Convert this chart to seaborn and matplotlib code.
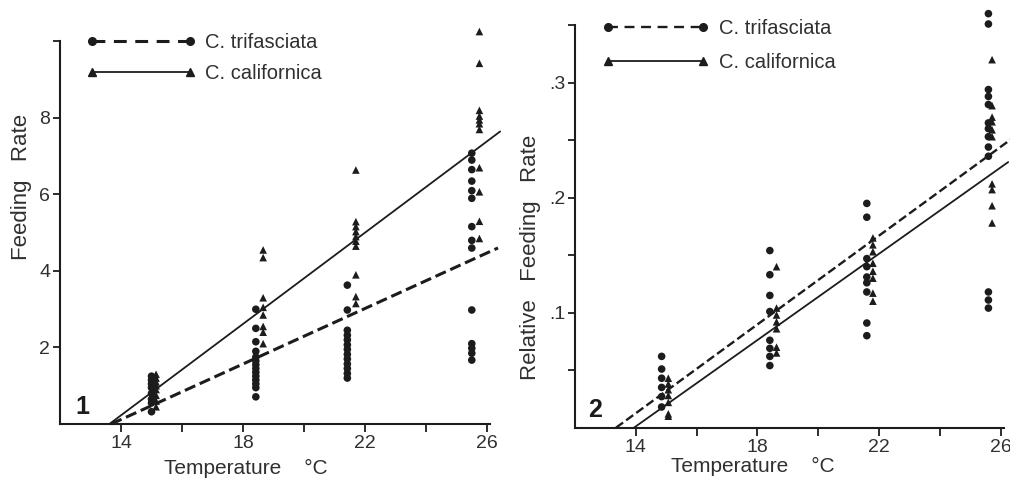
"""
Feeding rate vs temperature: two-panel scatter with fitted lines
"""
import numpy as np
import pandas as pd
import matplotlib
matplotlib.use("Agg")
import matplotlib.pyplot as plt
from matplotlib.lines import Line2D
import seaborn as sns

sns.set_style("ticks")
plt.rcParams["font.family"] = ["Liberation Sans", "DejaVu Sans"]

INK = "#1c1c1c"
TXT = "#303030"

# ---- panel 1 : Feeding Rate ----
p1_trif_x = [15.0, 18.42, 21.42, 25.5]
p1_trif_y = [
    [0.32, 0.55, 0.65, 0.8, 0.95, 1.05, 1.15, 1.25],
    [0.71, 0.95, 1.05, 1.15, 1.25, 1.35, 1.45, 1.55, 1.65, 1.75, 1.9, 2.15, 2.5, 3.0],
    [1.2, 1.32, 1.45, 1.57, 1.7, 1.82, 1.95, 2.07, 2.2, 2.32, 2.45, 2.98, 3.63],
    [1.67, 1.85, 1.98, 2.1, 2.98, 4.6, 4.8, 5.16, 5.9, 6.1, 6.35, 6.65, 6.9, 7.08],
]
p1_cal_x = [15.15, 18.66, 21.7, 25.75]
p1_cal_y = [
    [0.45, 0.6, 0.75, 0.9, 1.0, 1.1, 1.2, 1.3],
    [2.1, 2.4, 2.55, 2.85, 3.05, 3.3, 4.35, 4.55],
    [3.15, 3.33, 3.9, 4.65, 4.78, 4.9, 5.03, 5.16, 5.29, 6.64],
    [4.85, 5.3, 6.07, 6.7, 7.7, 7.85, 7.95, 8.05, 8.2, 9.43, 10.26],
]
# fitted lines: x where line meets zero, slope, x where drawing stops
p1_fit_trif = (13.68, 0.363, 26.36)
p1_fit_cal = (13.62, 0.597, 26.43)

# ---- panel 2 : Relative Feeding Rate ----
p2_trif_x = [14.85, 18.41, 21.6, 25.6]
p2_trif_y = [
    [0.018, 0.027, 0.035, 0.043, 0.051, 0.062],
    [0.054, 0.062, 0.069, 0.076, 0.101, 0.115, 0.133, 0.154],
    [0.08, 0.091, 0.118, 0.126, 0.131, 0.14, 0.147, 0.183, 0.195],
    [0.104, 0.111, 0.118, 0.236, 0.244, 0.253, 0.26, 0.265, 0.281, 0.288, 0.294, 0.351, 0.36],
]
p2_cal_x = [15.07, 18.63, 21.8, 25.72]
p2_cal_y = [
    [0.01, 0.012, 0.022, 0.028, 0.033, 0.038, 0.043],
    [0.065, 0.07, 0.086, 0.092, 0.098, 0.104, 0.14],
    [0.11, 0.117, 0.13, 0.136, 0.143, 0.153, 0.159, 0.165],
    [0.178, 0.193, 0.207, 0.212, 0.253, 0.259, 0.266, 0.27, 0.28, 0.32],
]
p2_fit_trif = (13.35, 0.0193, 26.35)
p2_fit_cal = (13.94, 0.01876, 26.25)

species = ["C. trifasciata", "C. californica"]


def to_frame(xs, ys, name):
    rows = [(x, v, name) for x, vals in zip(xs, ys) for v in vals]
    return pd.DataFrame(rows, columns=["temp", "rate", "species"])


def fit_frame(fit, name):
    x0, slope, x1 = fit
    xs = np.array([x0, x1])
    return pd.DataFrame({"temp": xs, "rate": slope * (xs - x0), "species": name})


def draw_panel(ax, pts, fits, xlim, ylim, ytop, dash_lw, leg_anchor, hlen, lspace):
    sns.scatterplot(data=pts, x="temp", y="rate", style="species",
                    markers={species[0]: "o", species[1]: "^"},
                    color=INK, s=30, linewidth=0, legend=False, ax=ax, clip_on=False)
    dash = (4.2, 2.8)
    sns.lineplot(data=fits[fits["species"] == species[0]], x="temp", y="rate",
                 color=INK, lw=dash_lw, dashes=dash, ls="--", legend=False, ax=ax, clip_on=False)
    sns.lineplot(data=fits[fits["species"] == species[1]], x="temp", y="rate",
                 color=INK, lw=1.3, legend=False, ax=ax, clip_on=False)
    ax.set_xlim(*xlim)
    ax.set_ylim(*ylim)
    sns.despine(ax=ax)
    for side in ["left", "bottom"]:
        ax.spines[side].set_linewidth(1.5)
        ax.spines[side].set_color(INK)
    ax.spines["left"].set_bounds(0, ytop)
    ax.spines["bottom"].set_bounds(12, 26.1)
    ax.set_xticks([14, 18, 22, 26])
    ax.set_xticks([16, 20, 24], minor=True)
    ax.tick_params(axis="x", which="both", direction="out", length=6, width=1.3,
                   color=INK, labelsize=14, labelcolor=TXT, pad=2)
    ax.tick_params(axis="y", which="both", direction="out", length=5, width=1.3,
                   color=INK, labelsize=14, labelcolor=TXT, pad=2)
    ax.set_xlabel("Temperature    \u00b0C", fontsize=15, color=TXT)

    handles = [
        Line2D([], [], color=INK, lw=dash_lw, ls=(0, dash), marker="o", ms=5.5),
        Line2D([], [], color=INK, lw=1.3, ls="-", marker="^", ms=5.5),
    ]
    leg = ax.legend(handles, species, loc="upper left", bbox_to_anchor=leg_anchor,
                    numpoints=2, handlelength=hlen, frameon=False, fontsize=14.5,
                    labelspacing=lspace, handletextpad=0.45, borderaxespad=0)
    for t in leg.get_texts():
        t.set_color(TXT)


fig = plt.figure(figsize=(10.1, 4.8), dpi=100)

ax1 = fig.add_axes([0.0594, 0.1167, 0.4349, 0.8606])
pts1 = pd.concat([to_frame(p1_trif_x, p1_trif_y, species[0]),
                  to_frame(p1_cal_x, p1_cal_y, species[1])])
fits1 = pd.concat([fit_frame(p1_fit_trif, species[0]), fit_frame(p1_fit_cal, species[1])])
draw_panel(ax1, pts1, fits1, (12, 26.4), (0, 10.8), 10, 2.2, (0.041, 0.965), 5.48, 0.58)
ax1.set_yticks([2, 4, 6, 8, 10])
ax1.set_yticklabels(["2", "4", "6", "8", ""])
ax1.set_ylabel("Feeding   Rate", fontsize=16, color=TXT)
ax1.yaxis.set_label_coords(-0.064, 0.574)
ax1.xaxis.set_label_coords(0.423, -0.085)
ax1.text(0.035, 0.025, "1", transform=ax1.transAxes, fontsize=18, fontweight="bold", color=INK)

ax2 = fig.add_axes([0.5693, 0.1090, 0.4304, 0.8865])
pts2 = pd.concat([to_frame(p2_trif_x, p2_trif_y, species[0]),
                  to_frame(p2_cal_x, p2_cal_y, species[1])])
fits2 = pd.concat([fit_frame(p2_fit_trif, species[0]), fit_frame(p2_fit_cal, species[1])])
draw_panel(ax2, pts2, fits2, (12, 26.3), (0, 0.37), 0.35, 1.7, (0.044, 0.9786), 5.33, 0.72)
ax2.set_yticks([0.1, 0.2, 0.3])
ax2.set_yticklabels([".1", ".2", ".3"])
ax2.set_yticks([0.05, 0.15, 0.25, 0.35], minor=True)
ax2.set_ylabel("Relative   Feeding   Rate", fontsize=16, color=TXT)
ax2.yaxis.set_label_coords(-0.078, 0.40)
ax2.xaxis.set_label_coords(0.410, -0.069)
ax2.text(0.03, 0.025, "2", transform=ax2.transAxes, fontsize=18, fontweight="bold", color=INK)

fig.savefig("out.png", dpi=100)
